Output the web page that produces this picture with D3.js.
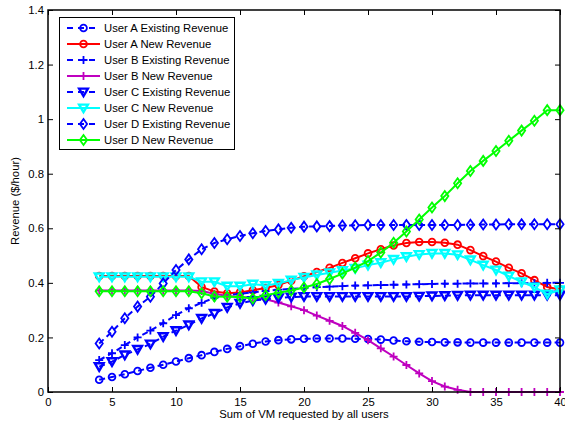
<!DOCTYPE html>
<html>
<head>
<meta charset="utf-8">
<script src="https://cdn.jsdelivr.net/npm/d3@7/dist/d3.min.js"></script>
<style>
  html, body { margin: 0; padding: 0; background: #fff; }
  svg { display: block; font-family: "Liberation Sans", Arial, sans-serif; }
</style>
</head>
<body>
<svg id="chart" width="565" height="426"></svg>
<script>
// Sum of VM requested by all users (x = 4 .. 40)
const vmSum = d3.range(4, 41);

// Revenue ($/hour) per user, one value per VM total
const userAExisting = [0.045,0.055,0.065,0.077,0.089,0.100,0.112,0.124,0.135,0.147,0.158,0.168,0.177,0.185,0.190,0.193,0.195,0.196,0.196,0.196,0.195,0.194,0.192,0.189,0.186,0.184,0.183,0.182,0.182,0.181,0.181,0.181,0.181,0.181,0.181,0.181,0.181];
const userANew = [0.425,0.425,0.425,0.425,0.425,0.425,0.425,0.425,0.385,0.368,0.362,0.365,0.373,0.381,0.392,0.408,0.424,0.440,0.455,0.473,0.490,0.508,0.523,0.537,0.546,0.550,0.550,0.547,0.540,0.520,0.498,0.478,0.455,0.435,0.410,0.385,0.376];
const userBExisting = [0.117,0.142,0.172,0.200,0.225,0.252,0.282,0.307,0.327,0.345,0.355,0.360,0.365,0.370,0.375,0.378,0.381,0.384,0.386,0.388,0.390,0.391,0.392,0.393,0.394,0.395,0.396,0.397,0.397,0.398,0.398,0.398,0.399,0.399,0.399,0.400,0.400];
const userBNew = [0.372,0.372,0.372,0.372,0.372,0.372,0.372,0.372,0.370,0.360,0.352,0.348,0.345,0.340,0.328,0.314,0.300,0.280,0.261,0.242,0.217,0.190,0.160,0.130,0.099,0.068,0.040,0.020,0.008,0,0,0,0,0,0,0,0];
const userCExisting = [0.093,0.111,0.136,0.156,0.176,0.203,0.225,0.246,0.270,0.288,0.310,0.325,0.335,0.340,0.345,0.348,0.350,0.350,0.350,0.350,0.350,0.350,0.350,0.350,0.350,0.351,0.352,0.353,0.354,0.355,0.355,0.355,0.355,0.355,0.355,0.355,0.355];
const userCNew = [0.422,0.422,0.422,0.422,0.422,0.422,0.422,0.422,0.404,0.404,0.388,0.388,0.395,0.390,0.398,0.410,0.420,0.429,0.437,0.445,0.453,0.465,0.474,0.486,0.496,0.504,0.508,0.508,0.503,0.484,0.465,0.447,0.425,0.404,0.384,0.359,0.374];
const userDExisting = [0.178,0.221,0.270,0.313,0.349,0.398,0.447,0.486,0.523,0.546,0.560,0.572,0.582,0.590,0.596,0.602,0.606,0.607,0.608,0.610,0.611,0.612,0.612,0.612,0.612,0.612,0.612,0.612,0.612,0.613,0.614,0.614,0.615,0.615,0.615,0.615,0.615];
const userDNew = [0.369,0.369,0.369,0.369,0.369,0.369,0.369,0.369,0.362,0.350,0.349,0.348,0.343,0.355,0.364,0.372,0.383,0.396,0.414,0.434,0.456,0.480,0.511,0.547,0.588,0.632,0.676,0.718,0.765,0.810,0.847,0.883,0.921,0.958,0.994,1.033,1.033];

const seriesNames = ["User A Existing Revenue","User A New Revenue","User B Existing Revenue","User B New Revenue","User C Existing Revenue","User C New Revenue","User D Existing Revenue","User D New Revenue"];
const seriesValues = [userAExisting,userANew,userBExisting,userBNew,userCExisting,userCNew,userDExisting,userDNew];
const seriesColors = ["#0000ff","#ff0000","#0000ff","#bf00bf","#0000ff","#00ffff","#0000ff","#00ff00"];
const seriesDashed = [true,false,true,false,true,false,true,false];
const seriesMarkers = ["circle","circle","plus","plus","triangle","triangle","diamond","diamond"];

const xTicks = [0,5,10,15,20,25,30,35,40];
const yTicks = [0,0.2,0.4,0.6,0.8,1,1.2,1.4];
const yTickLabels = ["0","0.2","0.4","0.6","0.8","1","1.2","1.4"];

const svg = d3.select("#chart");
const plotLeft = 48, plotRight = 560, plotTop = 10, plotBottom = 392;
const x = d3.scaleLinear().domain([0, 40]).range([plotLeft, plotRight]);
const y = d3.scaleLinear().domain([0, 1.4]).range([plotBottom, plotTop]);
const FONT = 11.3;

function markerPath(kind) {
  switch (kind) {
    case "circle": return "M3.4,0A3.4,3.4 0 1,1 -3.4,0A3.4,3.4 0 1,1 3.4,0Z";
    case "plus": return "M-4,0H4M0,-4V4";
    case "triangle": return "M0,4.2L-4.4,-3.4L4.4,-3.4Z";
    case "diamond": return "M0,-5L3.6,0L0,5L-3.6,0Z";
  }
}
function markerWidth(kind) { return kind === "triangle" ? 2.4 : 1.8; }

// series lines and markers
const line = d3.line().x((d, i) => x(vmSum[i])).y(d => y(d));
const plot = svg.append("g");
seriesValues.forEach((vals, s) => {
  const g = plot.append("g");
  g.append("path")
    .attr("d", line(vals))
    .attr("fill", "none")
    .attr("stroke", seriesColors[s])
    .attr("stroke-width", 2)
    .attr("stroke-dasharray", seriesDashed[s] ? "6,4" : null);
  g.selectAll("path.m").data(vals).enter().append("path")
    .attr("class", "m")
    .attr("transform", (d, i) => `translate(${x(vmSum[i])},${y(d)})`)
    .attr("d", markerPath(seriesMarkers[s]))
    .attr("fill", "none")
    .attr("stroke", seriesColors[s])
    .attr("stroke-width", markerWidth(seriesMarkers[s]));
});

// axes (boxed, ticks inward)
const axG = svg.append("g");
const xAxis = d3.axisBottom(x).tickValues(xTicks).tickSize(-5).tickPadding(6).tickFormat(d3.format("d"));
const xAxisTop = d3.axisTop(x).tickValues(xTicks).tickSize(-5).tickFormat("");
const yAxis = d3.axisLeft(y).tickValues(yTicks).tickSize(-5).tickPadding(4).tickFormat((d, i) => yTickLabels[i]);
const yAxisRight = d3.axisRight(y).tickValues(yTicks).tickSize(-5).tickFormat("");

axG.append("g").attr("transform", `translate(0,${plotBottom})`).call(xAxis);
axG.append("g").attr("transform", `translate(0,${plotTop})`).call(xAxisTop);
axG.append("g").attr("transform", `translate(${plotLeft},0)`).call(yAxis);
axG.append("g").attr("transform", `translate(${plotRight},0)`).call(yAxisRight);
axG.selectAll(".domain").remove();
axG.selectAll(".tick line").attr("stroke", "#000").attr("stroke-width", 1);
axG.selectAll(".tick text").attr("font-size", FONT).attr("fill", "#000").attr("font-family", "Liberation Sans, Arial, sans-serif");
axG.append("rect")
  .attr("x", plotLeft).attr("y", plotTop)
  .attr("width", plotRight - plotLeft).attr("height", plotBottom - plotTop)
  .attr("fill", "none").attr("stroke", "#000").attr("stroke-width", 1.5);

// axis titles
svg.append("text")
  .attr("x", (plotLeft + plotRight) / 2).attr("y", 418)
  .attr("text-anchor", "middle").attr("font-size", FONT)
  .text("Sum of VM requested by all users");
svg.append("text")
  .attr("transform", `translate(19,${(plotTop + plotBottom) / 2}) rotate(-90)`)
  .attr("text-anchor", "middle").attr("font-size", FONT)
  .text("Revenue ($/hour)");

// legend
const lg = svg.append("g");
lg.append("rect")
  .attr("x", 59.5).attr("y", 17.5).attr("width", 175).attr("height", 132)
  .attr("fill", "#fff").attr("stroke", "#000").attr("stroke-width", 1);
seriesNames.forEach((name, s) => {
  const yy = 28 + s * 16;
  lg.append("line")
    .attr("x1", 67).attr("x2", 100).attr("y1", yy).attr("y2", yy)
    .attr("stroke", seriesColors[s]).attr("stroke-width", 2)
    .attr("stroke-dasharray", seriesDashed[s] ? "6,5" : null);
  lg.append("path")
    .attr("transform", `translate(83.5,${yy})`)
    .attr("d", markerPath(seriesMarkers[s]))
    .attr("fill", "none").attr("stroke", seriesColors[s])
    .attr("stroke-width", markerWidth(seriesMarkers[s]));
  lg.append("text")
    .attr("x", 104).attr("y", yy + 4)
    .attr("font-size", FONT).attr("fill", "#000")
    .text(name);
});
</script>
</body>
</html>
